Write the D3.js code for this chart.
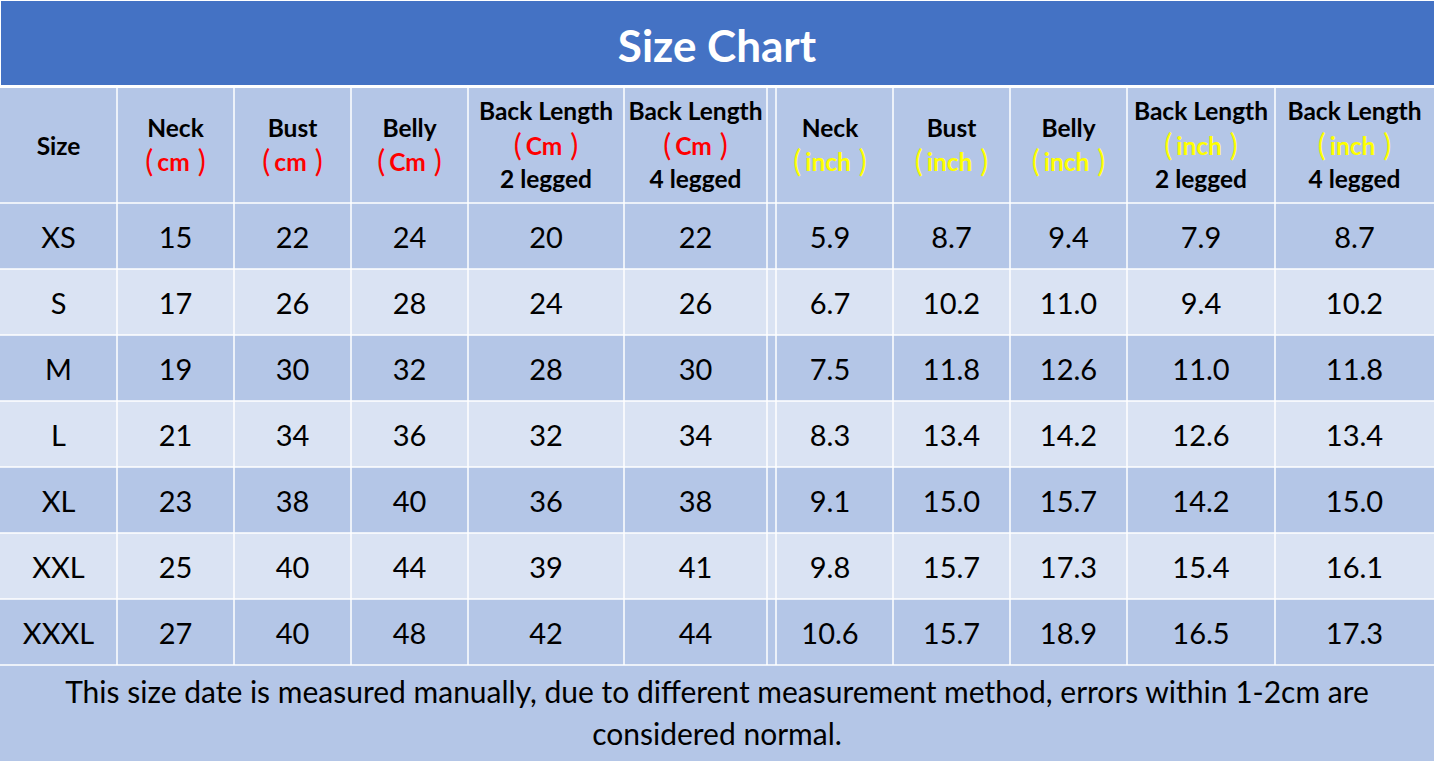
<!DOCTYPE html>
<html>
<head>
<meta charset="utf-8">
<script src="https://cdn.jsdelivr.net/npm/d3@7/dist/d3.min.js"></script>
<style>
  html, body { margin: 0; padding: 0; background: #ffffff; }
  svg { display: block; }
  text { font-family: Lato, "Noto Sans CJK SC", sans-serif; }
</style>
</head>
<body>
<svg id="chart" width="1434" height="761"></svg>
<script>
// ---- data ----
const title = "Size Chart";
const sizes = ["XS", "S", "M", "L", "XL", "XXL", "XXXL"];
const neckCm  = [15, 17, 19, 21, 23, 25, 27];
const bustCm  = [22, 26, 30, 34, 38, 40, 40];
const bellyCm = [24, 28, 32, 36, 40, 44, 48];
const back2Cm = [20, 24, 28, 32, 36, 39, 42];
const back4Cm = [22, 26, 30, 34, 38, 41, 44];
const neckIn  = [5.9, 6.7, 7.5, 8.3, 9.1, 9.8, 10.6];
const bustIn  = [8.7, 10.2, 11.8, 13.4, 15.0, 15.7, 15.7];
const bellyIn = [9.4, 11.0, 12.6, 14.2, 15.7, 17.3, 18.9];
const back2In = [7.9, 9.4, 11.0, 12.6, 14.2, 15.4, 16.5];
const back4In = [8.7, 10.2, 11.8, 13.4, 15.0, 16.1, 17.3];
const headerNames = ["Size", "Neck", "Bust", "Belly", "Back Length", "Back Length", "Neck", "Bust", "Belly", "Back Length", "Back Length"];
const headerUnits = ["", "cm", "cm", "Cm", "Cm", "Cm", "inch", "inch", "inch", "inch", "inch"];
const headerLegs  = ["", "", "", "", "2 legged", "4 legged", "", "", "", "2 legged", "4 legged"];
const footerLines = [
  "This size date is measured manually, due to different measurement method, errors within 1-2cm are",
  "considered normal."
];

// ---- layout ----
const W = 1434, H = 761;
const svg = d3.select("#chart");
const colEdges = [0, 117, 234, 351, 468, 624, 767, 893, 1010, 1127, 1275, 1434];
const spacerLine = 776;
const colCenter = i => (colEdges[i] + colEdges[i + 1]) / 2;
const headerTop = 88, headerBottom = 203, rowsBottom = 665;
const y = d3.scaleBand().domain(sizes).range([headerBottom, rowsBottom]).paddingInner(0);

const darkBg = "#b4c6e7", lightBg = "#dae3f3", titleBg = "#4472c4";
const unitColor = u => (u === "inch" ? "#ffff00" : "#ff0000");

// title band
svg.append("rect").attr("x", 1).attr("y", 1).attr("width", W - 1).attr("height", 84).attr("fill", titleBg);
svg.append("text").attr("x", W / 2).attr("y", 62).attr("text-anchor", "middle")
  .attr("fill", "#ffffff").attr("font-size", 44).attr("font-weight", 700).text(title);

// header background
svg.append("rect").attr("x", 0).attr("y", headerTop).attr("width", W).attr("height", headerBottom - headerTop).attr("fill", darkBg);

// row backgrounds
svg.selectAll("rect.row").data(sizes).join("rect").attr("class", "row")
  .attr("x", 0).attr("y", d => y(d)).attr("width", W).attr("height", y.bandwidth())
  .attr("fill", (d, i) => (i % 2 === 0 ? darkBg : lightBg));

// footer background
svg.append("rect").attr("x", 0).attr("y", rowsBottom).attr("width", W).attr("height", H - rowsBottom).attr("fill", darkBg);

// grid lines
const grid = svg.append("g").attr("stroke", "#ffffff").attr("stroke-width", 1.5);
const hLines = [headerTop - 1, headerBottom].concat(sizes.map(s => y(s) + y.bandwidth()));
grid.selectAll("line.h").data(hLines).join("line").attr("class", "h")
  .attr("x1", 0).attr("x2", W).attr("y1", d => d).attr("y2", d => d);
const vLines = colEdges.slice(1, -1).concat([spacerLine]);
grid.selectAll("line.v").data(vLines).join("line").attr("class", "v")
  .attr("x1", d => d).attr("x2", d => d).attr("y1", headerTop).attr("y2", rowsBottom);

// header text
const hdr = svg.append("g").attr("font-weight", 700).attr("font-size", 24.5).attr("text-anchor", "middle");
function unitText(x, yy, unit) {
  const t = hdr.append("text").attr("x", x).attr("y", yy).attr("fill", unitColor(unit));
  t.append("tspan").attr("font-size", 30).attr("font-weight", 400).attr("dy", 1).text("(");
  t.append("tspan").attr("dx", 4).attr("dy", -1).text(unit);
  t.append("tspan").attr("dx", 8).attr("dy", 1).attr("font-size", 30).attr("font-weight", 400).text(")");
}
headerNames.forEach((name, i) => {
  const cx = colCenter(i);
  const unit = headerUnits[i], legs = headerLegs[i];
  if (!unit) {
    hdr.append("text").attr("x", cx).attr("y", 155).attr("fill", "#000").text(name);
  } else if (!legs) {
    hdr.append("text").attr("x", cx).attr("y", 137).attr("fill", "#000").text(name);
    unitText(cx, 171, unit);
  } else {
    hdr.append("text").attr("x", cx).attr("y", 120).attr("fill", "#000").text(name);
    unitText(cx, 155, unit);
    hdr.append("text").attr("x", cx).attr("y", 188).attr("fill", "#000").text(legs);
  }
});

// body cells
const fmt1 = d3.format(".1f");
const columns = [
  sizes,
  neckCm, bustCm, bellyCm, back2Cm, back4Cm,
  neckIn.map(fmt1), bustIn.map(fmt1), bellyIn.map(fmt1), back2In.map(fmt1), back4In.map(fmt1)
];
const body = svg.append("g").attr("font-size", 29).attr("text-anchor", "middle").attr("fill", "#000");
columns.forEach((col, ci) => {
  body.selectAll("text.c" + ci).data(col).join("text").attr("class", "c" + ci)
    .attr("x", colCenter(ci))
    .attr("y", (d, ri) => y(sizes[ri]) + y.bandwidth() / 2 + 12)
    .text(d => d);
});

// footer
svg.append("g").attr("font-size", 30).attr("text-anchor", "middle").attr("fill", "#000")
  .selectAll("text").data(footerLines).join("text")
  .attr("x", W / 2).attr("y", (d, i) => 703 + i * 42).text(d => d);
</script>
</body>
</html>
